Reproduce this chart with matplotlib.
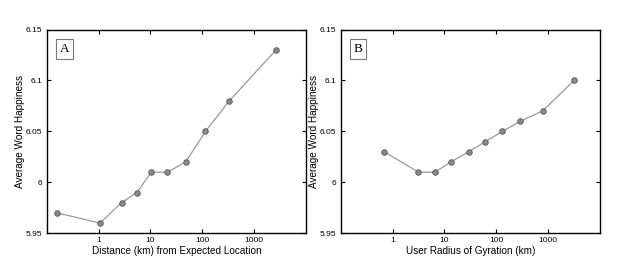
import matplotlib
matplotlib.use("Agg")
import matplotlib.pyplot as plt
from matplotlib.ticker import FixedFormatter, FixedLocator, NullLocator

plt.rcParams['font.family'] = ['Liberation Sans', 'DejaVu Sans']

# Panel A data
dist_km = [0.16, 1.07, 2.77, 5.46, 10.4, 21.2, 47.7, 115, 331, 2650]
happ_a = [5.97, 5.96, 5.98, 5.99, 6.01, 6.01, 6.02, 6.05, 6.08, 6.13]
# Panel B data
gyr_km = [0.69, 3.17, 6.6, 13.2, 29.5, 62, 130, 293, 780, 3170]
happ_b = [6.03, 6.01, 6.01, 6.02, 6.03, 6.04, 6.05, 6.06, 6.07, 6.10]

xticks = [1, 10, 100, 1000]
xticklabels = ['1', '10', '100', '1000']
yticks = [5.95, 6.0, 6.05, 6.1, 6.15]
yticklabels = ['5.95', '6', '6.05', '6.1', '6.15']

fig = plt.figure(figsize=(6.25, 2.65), dpi=100)
ax_a = fig.add_axes([0.0747, 0.1196, 0.415, 0.769])
ax_b = fig.add_axes([0.545, 0.1196, 0.415, 0.769])

panels = [
    (ax_a, dist_km, happ_a, 'Distance (km) from Expected Location', 'A'),
    (ax_b, gyr_km, happ_b, 'User Radius of Gyration (km)', 'B'),
]
for ax, x, y, xlabel, tag in panels:
    ax.plot(x, y, '-', color='#999999', lw=0.9, marker='o', ms=4.0,
            mfc='#8a8a8a', mec='#555555', mew=0.6)
    ax.set_xscale('log')
    ax.set_xlim(0.1, 10000)
    ax.set_ylim(5.95, 6.15)
    ax.xaxis.set_major_locator(FixedLocator(xticks))
    ax.xaxis.set_major_formatter(FixedFormatter(xticklabels))
    ax.xaxis.set_minor_locator(NullLocator())
    ax.set_yticks(yticks)
    ax.set_yticklabels(yticklabels)
    ax.tick_params(direction='in', top=True, right=True, length=3, width=0.8,
                   labelsize=6, pad=3)
    for s in ax.spines.values():
        s.set_linewidth(1.0)
    ax.set_xlabel(xlabel, fontsize=7.2, labelpad=1)
    ax.set_ylabel('Average Word Happiness', fontsize=7.2, labelpad=0.5)
    ax.text(0.05, 0.935, tag, transform=ax.transAxes, fontsize=9.5,
            family=['Liberation Serif', 'DejaVu Serif'], ha='left', va='top',
            bbox=dict(boxstyle='square,pad=0.3', fc='white', ec='#777777', lw=0.8))

fig.savefig('out.png', dpi=100)
